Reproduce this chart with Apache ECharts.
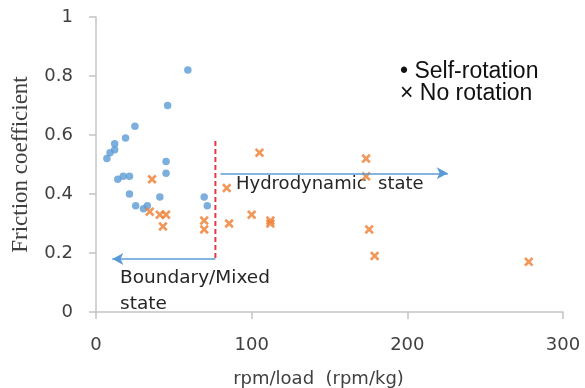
<!DOCTYPE html>
<html lang="en">
<head>
  <meta charset="UTF-8">
  <title>Friction coefficient</title>
  <script src="https://cdn.jsdelivr.net/npm/echarts@6/dist/echarts.min.js"></script>
  <style>
    html, body { margin: 0; padding: 0; background: #fff; }
    #chart { width: 585px; height: 388px; }
  </style>
</head>
<body>
  <div id="chart"></div>
<script>
  // self-rotation (blue dots)
  let selfX = [59, 46, 25, 19, 12, 12, 9, 7, 45, 45, 14, 17.5, 21.5, 21.5, 41, 69.5, 71.5, 25.5, 30.5, 33]
  let selfY = [0.82, 0.70, 0.63, 0.59, 0.57, 0.55, 0.54, 0.52, 0.51, 0.47, 0.45, 0.46, 0.46, 0.40, 0.39, 0.39, 0.36, 0.36, 0.35, 0.36]
  // no rotation (orange crosses)
  let noX = [36, 34.5, 41, 45, 43, 69.5, 69.5, 84, 85.5, 105, 173.5, 173.5, 100, 112, 112, 175.5, 179, 278]
  let noY = [0.45, 0.34, 0.33, 0.33, 0.29, 0.31, 0.28, 0.42, 0.30, 0.54, 0.52, 0.46, 0.33, 0.31, 0.30, 0.28, 0.19, 0.17]
  // annotation lines
  let boundaryX = 76.7
  let dashY = [0.58, 0.18]
  let leftArrow = [[76.7, 0.18], [10.5, 0.18]]
  let rightArrow = [[80, 0.47], [226, 0.47]]

  let xTicks = [0, 100, 200, 300]
  let yTicks = [0, 0.2, 0.4, 0.6, 0.8, 1]

  let cross = 'path://M2,0 L5,3 L8,0 L10,2 L7,5 L10,8 L8,10 L5,7 L2,10 L0,8 L3,5 L0,2 Z'
  let axisFont = 'DejaVu Sans'

  let myCharts = echarts.init(document.getElementById('chart'))
  let option = {
    animation: false,
    grid: { left: 96, right: 22, top: 17, bottom: 76, outerBoundsMode: 'none', containLabel: false },
    xAxis: {
      type: 'value',
      min: xTicks[0], max: xTicks[xTicks.length - 1], interval: 100,
      name: 'rpm/load  (rpm/kg)',
      nameLocation: 'middle',
      nameGap: 58,
      nameTextStyle: { fontSize: 18, color: '#404040', fontFamily: axisFont, padding: [0, 22, 0, 0] },
      axisLine: { lineStyle: { color: '#c4c4c4', width: 1.5 } },
      axisTick: { length: 7, lineStyle: { color: '#c4c4c4', width: 1.5 } },
      axisLabel: { fontSize: 18, color: '#404040', fontFamily: axisFont, margin: 24 },
      splitLine: { show: false }
    },
    yAxis: {
      type: 'value',
      min: yTicks[0], max: yTicks[yTicks.length - 1], interval: 0.2,
      name: 'Friction coefficient',
      nameLocation: 'middle',
      nameGap: 64,
      nameRotate: 90,
      nameTextStyle: { fontSize: 23, color: '#404040', fontFamily: 'Liberation Serif' },
      axisLine: { show: true, lineStyle: { color: '#c4c4c4', width: 1.5 } },
      axisTick: { show: true, length: 7, lineStyle: { color: '#c4c4c4', width: 1.5 } },
      axisLabel: { fontSize: 18, color: '#404040', fontFamily: axisFont, margin: 23 },
      splitLine: { show: false }
    },
    series: [
      {
        name: 'Self-rotation',
        type: 'scatter',
        data: selfX.map((x, i) => [x, selfY[i]]),
        symbol: 'circle',
        symbolSize: 7.5,
        itemStyle: { color: '#5b9bd5' },
        z: 3
      },
      {
        name: 'No rotation',
        type: 'scatter',
        data: noX.map((x, i) => [x, noY[i]]),
        symbol: cross,
        symbolSize: 9.5,
        itemStyle: { color: '#ed7d31' },
        z: 3
      },
      {
        // boundary divider
        type: 'line',
        data: dashY.map(y => [boundaryX, y]),
        symbol: 'none',
        lineStyle: { color: '#e03a45', width: 2, type: [5, 3] },
        z: 2
      },
      {
        // regime arrows
        type: 'scatter',
        data: [],
        markLine: {
          silent: true,
          symbol: ['none', 'arrow'],
          symbolSize: [9, 11],
          label: { show: false },
          lineStyle: { color: '#5b9bd5', width: 1.5, type: 'solid' },
          data: [
            [{ coord: leftArrow[0] }, { coord: leftArrow[1] }],
            [{ coord: rightArrow[0] }, { coord: rightArrow[1] }]
          ]
        }
      }
    ],
    graphic: [
      { type: 'text', left: 236, top: 175, style: { text: 'Hydrodynamic  state', fontSize: 18, fill: '#262626', fontFamily: axisFont } },
      { type: 'text', left: 120, top: 265, style: { text: 'Boundary/Mixed\nstate', fontSize: 18.5, lineHeight: 26, fill: '#262626', fontFamily: axisFont } },
      { type: 'text', left: 400, top: 60, style: { text: '\u2022 Self-rotation\n\u00d7 No rotation', fontSize: 23, lineHeight: 22, fill: '#111', fontFamily: 'Liberation Sans' } }
    ]
  }
  myCharts.setOption(option)
</script>
</body>
</html>
